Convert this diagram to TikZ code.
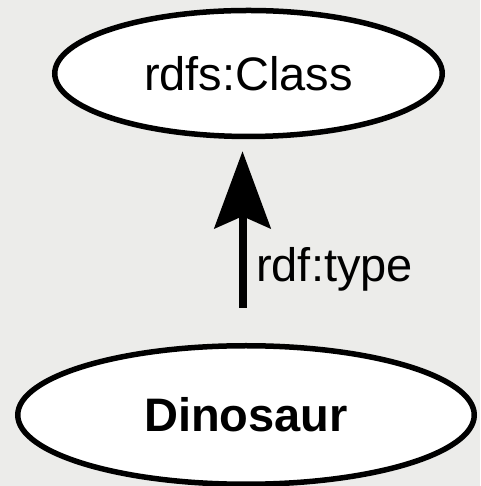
\documentclass[tikz,border=0pt]{standalone}
\usepackage{fontspec}
\setmainfont{Liberation Sans}
\usetikzlibrary{shapes.geometric,arrows.meta}
\definecolor{bgc}{HTML}{ECECEA}
\tikzset{
  rdfnode/.style={ellipse,draw=black,fill=white,line width=5.5pt,inner sep=0pt,font=\fontsize{47}{50}\selectfont},
  typearrow/.style={line width=8pt,-{Stealth[length=77pt,width=56pt,inset=12pt]}},
  edgelabel/.style={font=\fontsize{47}{50}\selectfont,inner sep=0pt,anchor=base west}
}
\begin{document}
\begin{tikzpicture}[x=1pt,y=1pt]
\fill[bgc] (0,0) rectangle (480,486);
\useasboundingbox (0,0) rectangle (480,486);
\node[rdfnode,minimum width=387.5pt,minimum height=126pt] (cls) at (248.5,412.5) {rdfs:Class};
\node[rdfnode,minimum width=456.5pt,minimum height=138.5pt] (dino) at (246,71) {\bfseries Dinosaur};
\coordinate (a0) at (dino.north -| 242.5,0);
\coordinate (a1) at (cls.south -| 242.5,0);
\draw[typearrow,shorten <=35pt,shorten >=12pt] (a0) -- (a1);
\node[edgelabel] (lbl) at (256,204) {rdf:type};
\end{tikzpicture}
\end{document}
